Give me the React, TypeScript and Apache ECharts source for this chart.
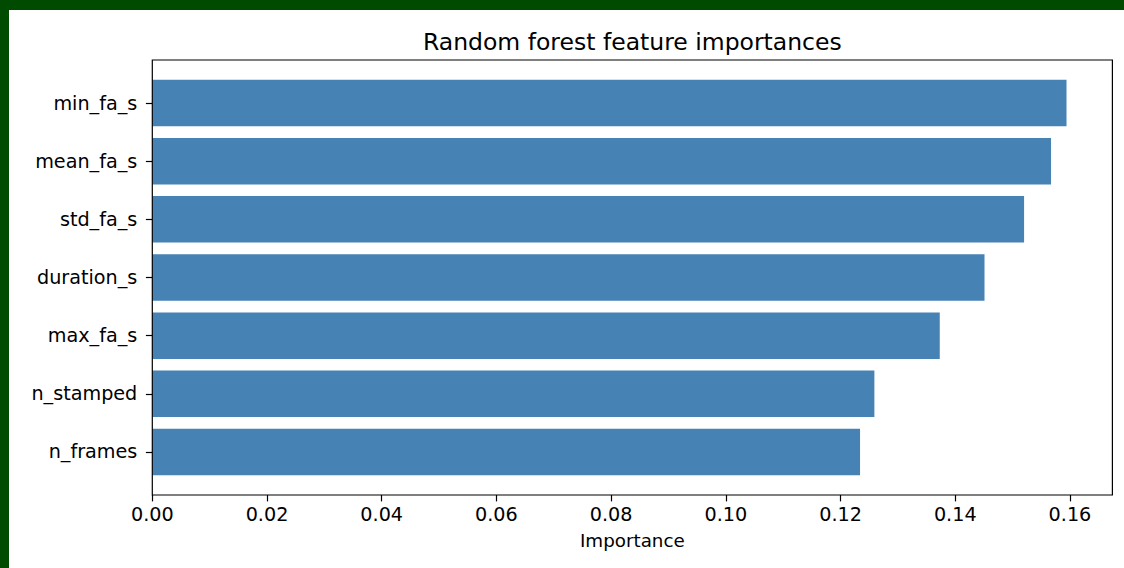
import React, { useEffect, useRef } from "react";
import * as echarts from "echarts";

// Data (bottom to top, as in matplotlib barh)
const features = ["n_frames", "n_stamped", "max_fa_s", "duration_s", "std_fa_s", "mean_fa_s", "min_fa_s"];
const importances = [0.1234, 0.1259, 0.1373, 0.1451, 0.152, 0.1567, 0.1594];
const xTicks = [0, 0.02, 0.04, 0.06, 0.08, 0.1, 0.12, 0.14, 0.16];
const titleText = "Random forest feature importances";
const xLabel = "Importance";

const FONT = "DejaVu Sans";
const W = 1115;
const H = 558;
// plot frame (chart coordinates)
const plotLeft = 143.3;
const plotRight = 1103.4;
const plotTop = 50;
const plotBottom = 485;
// matplotlib margins: data range -0.4..6.4 with 5% margin
const unitsTotal = 7.48;
const pxPerUnit = (plotBottom - plotTop) / unitsTotal;
const inset = 0.24 * pxPerUnit;

export default function App() {
  const ref = useRef<HTMLDivElement>(null);
  useEffect(() => {
    if (!ref.current) return;
    const chart = echarts.init(ref.current, null, { renderer: "svg" });
    chart.setOption({
      animation: false,
      backgroundColor: "#ffffff",
      grid: {
        left: plotLeft,
        right: W - plotRight,
        top: plotTop + inset,
        bottom: H - plotBottom + inset,
        containLabel: false,
      },
      xAxis: {
        type: "value",
        min: 0,
        max: 0.1674,
        offset: inset,
        axisLine: { show: false },
        axisTick: {
          show: true,
          length: 6.4,
          lineStyle: { color: "#000", width: 1.2 },
          customValues: xTicks,
        },
        axisLabel: {
          customValues: xTicks,
          formatter: (v: number) => v.toFixed(2),
          fontFamily: FONT,
          fontSize: 19.2,
          color: "#000",
          margin: 10,
        },
        splitLine: { show: false },
        name: xLabel,
        nameLocation: "middle",
        nameGap: 36,
        nameTextStyle: { fontFamily: FONT, fontSize: 18.3, color: "#000" },
      },
      yAxis: {
        type: "category",
        data: features,
        axisLine: { show: false },
        axisTick: {
          show: true,
          alignWithLabel: true,
          length: 6.4,
          lineStyle: { color: "#000", width: 1.2 },
        },
        axisLabel: {
          fontFamily: FONT,
          fontSize: 19.2,
          color: "#000",
          margin: 15,
        },
        splitLine: { show: false },
      },
      series: [
        {
          type: "bar",
          data: importances,
          barWidth: "80%",
          itemStyle: { color: "#4682b4" },
        },
      ],
      graphic: [
        {
          type: "rect",
          shape: { x: plotLeft, y: plotTop, width: plotRight - plotLeft, height: plotBottom - plotTop },
          style: { fill: "none", stroke: "#000", lineWidth: 1.2 },
          z: 100,
        },
        {
          type: "text",
          x: (plotLeft + plotRight) / 2,
          y: 31.5,
          style: {
            text: titleText,
            fontFamily: FONT,
            fontSize: 23.5,
            fill: "#000",
            align: "center",
            verticalAlign: "middle",
          },
        },
      ],
    });
    return () => chart.dispose();
  }, []);

  return (
    <div style={{ position: "absolute", left: 0, top: 0, width: 1124, height: 568, background: "#004b00", overflow: "hidden" }}>
      <div ref={ref} style={{ position: "absolute", left: 9, top: 10, width: W, height: H, background: "#fff" }} />
    </div>
  );
}
